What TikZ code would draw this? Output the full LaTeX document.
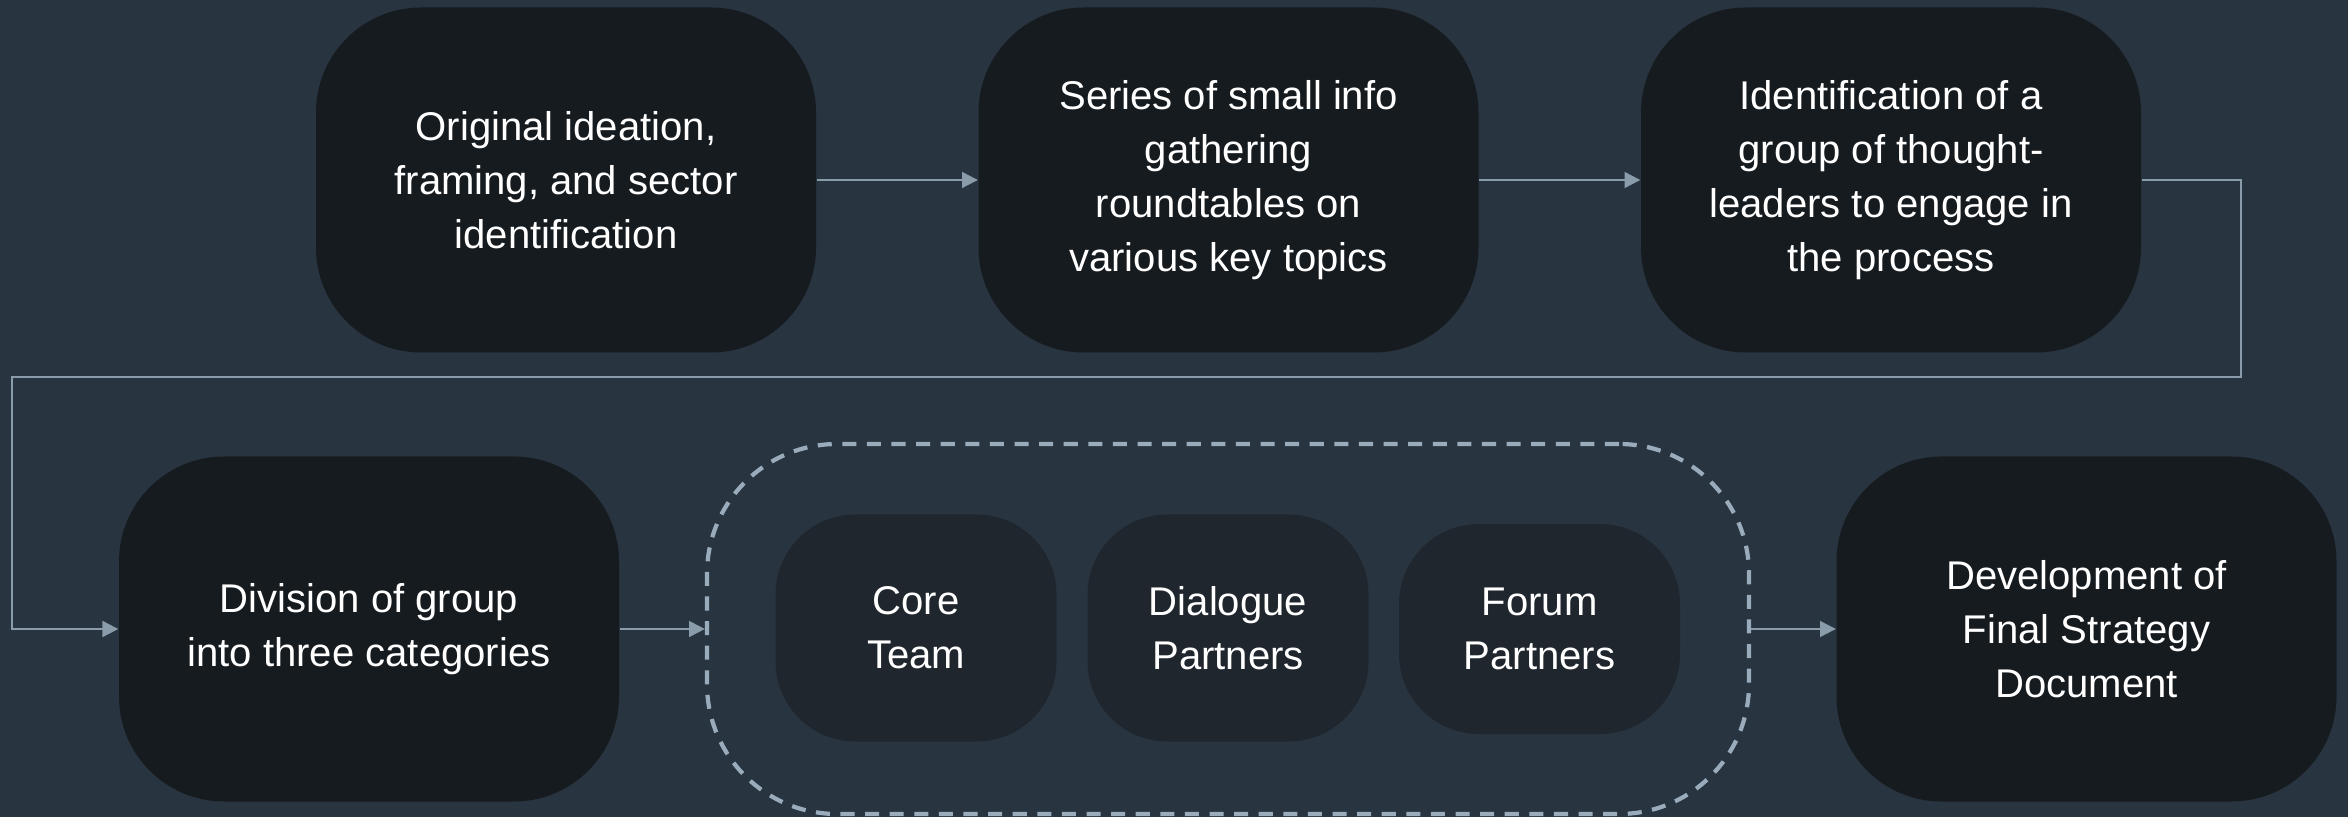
\documentclass[tikz,border=0pt]{standalone}
\usepackage{fontspec}
\setmainfont{Liberation Sans}
\usetikzlibrary{arrows.meta}

\definecolor{hintergrund}{HTML}{283440}
\definecolor{kasten}{HTML}{161B1F}
\definecolor{innen}{HTML}{1F262D}
\definecolor{linie}{HTML}{8A9BAA}
\definecolor{strich}{HTML}{9AACBB}

\begin{document}
\begin{tikzpicture}[
    schritt/.style={fill=kasten, rounded corners=1.05cm, minimum width=5cm, minimum height=3.45cm,
      text=white, align=center, font=\fontsize{11.4}{15.3}\selectfont, inner sep=0pt},
    kategorie/.style={fill=innen, rounded corners=0.8cm, minimum width=2.81cm, minimum height=2.27cm,
      text=white, align=center, font=\fontsize{11.4}{15.3}\selectfont, inner sep=0pt},
    rahmen/.style={draw=strich, line width=1.2pt, dash pattern=on 4pt off 3pt, rounded corners=1.3cm,
      minimum width=10.42cm, minimum height=3.7cm},
    pfeil/.style={draw=linie, line width=0.6pt, -{Triangle[length=4.5pt,width=4.5pt]}}
  ]
  % Hintergrund
  \fill[hintergrund] (0,0) rectangle (23.48,8.17);
  \useasboundingbox (0,0) rectangle (23.48,8.17);

  % Obere Reihe
  \node[schritt] (ideation) at (5.66,6.37) {Original ideation,\\framing, and sector\\identification};
  \node[schritt] (roundtables) at (12.285,6.37) {Series of small info\\gathering\\roundtables on\\various key topics};
  \node[schritt] (leaders) at (18.91,6.37) {Identification of a\\group of thought-\\leaders to engage in\\the process};

  % Untere Reihe
  \node[schritt] (division) at (3.69,1.88) {Division of group\\into three categories};
  \node[rahmen] (gruppe) at (12.28,1.88) {};
  \node[kategorie] (core) at (9.16,1.89) {Core\\Team};
  \node[kategorie] (dialogue) at (12.28,1.89) {Dialogue\\Partners};
  \node[kategorie, minimum height=2.1cm] (forum) at (15.395,1.88) {Forum\\Partners};
  \node[schritt] (strategy) at (20.865,1.88) {Development of\\Final Strategy\\Document};

  % Verbindungen
  \coordinate (knick1) at (22.41,6.37);
  \coordinate (knick2) at (22.41,4.40);
  \coordinate (knick3) at (0.12,4.40);
  \coordinate (knick4) at (0.12,1.88);
  \draw[pfeil] (ideation) -- (roundtables);
  \draw[pfeil] (roundtables) -- (leaders);
  \draw[pfeil] (leaders.east) -- (knick1) -- (knick2) -- (knick3) -- (knick4) -- (division.west);
  \draw[pfeil] (division.east) -- (division.east -| gruppe.west);
  \draw[pfeil] (gruppe.east |- strategy.west) -- (strategy.west);
\end{tikzpicture}
\end{document}
